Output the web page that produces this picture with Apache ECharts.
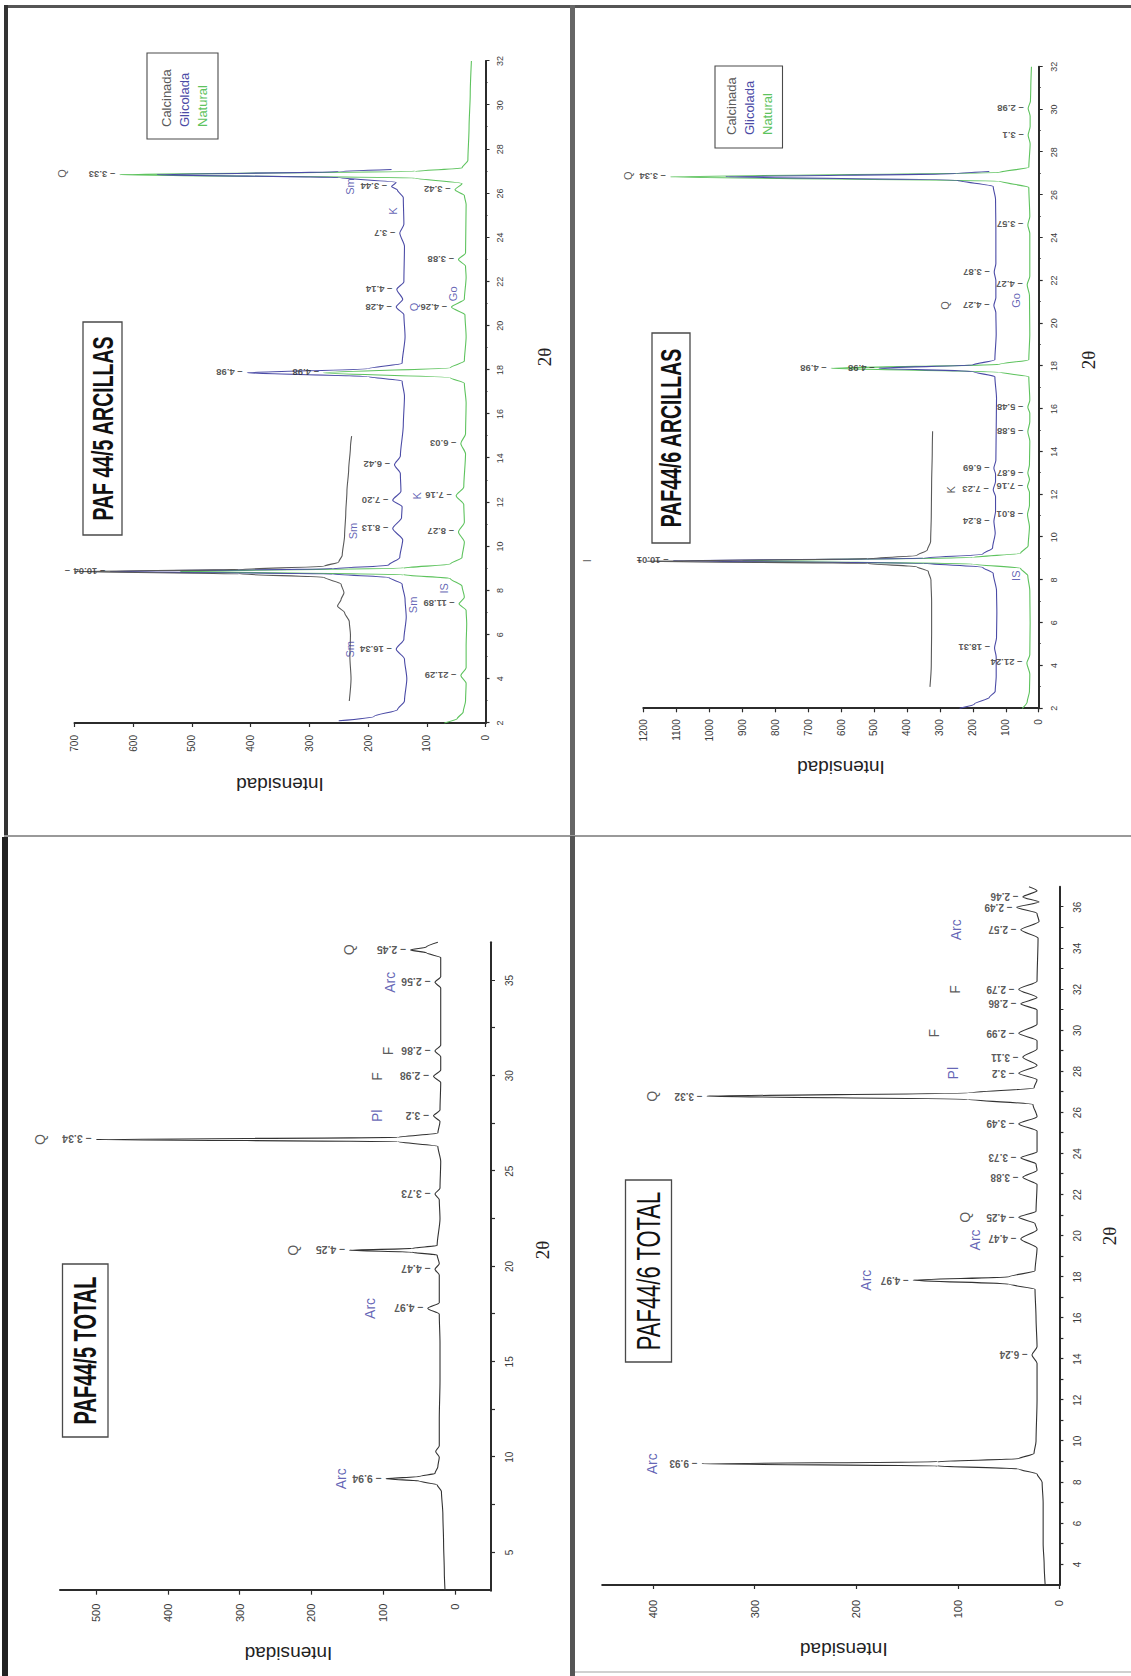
<!DOCTYPE html>
<html>
<head>
<meta charset="utf-8">
<title>Difractogramas PAF44/5 y PAF44/6</title>
<script src="https://cdn.jsdelivr.net/npm/echarts@6.0.0/dist/echarts.min.js"></script>
<style>
  html, body { margin: 0; padding: 0; background: #fff; }
  #page { position: relative; width: 1131px; height: 1676px; overflow: hidden; background: #fff; }
  .rule { position: absolute; }
  .panel { position: absolute; overflow: hidden; }
  .chart { position: absolute; left: 0; top: 0; transform-origin: 0 0; }
</style>
</head>
<body>
<div id="page">
  <!-- frame lines between the four diffractograms -->
  <div class="rule" style="left:4px;top:5px;width:1127px;height:3px;background:#555;"></div>
  <div class="rule" style="left:4px;top:5px;width:4px;height:832px;background:#333;"></div>
  <div class="rule" style="left:570px;top:5px;width:5px;height:831px;background:#666;"></div>
  <div class="rule" style="left:4px;top:835px;width:1127px;height:2px;background:#999;"></div>
  <div class="rule" style="left:2px;top:837px;width:6px;height:839px;background:#222;"></div>
  <div class="rule" style="left:570px;top:836px;width:5px;height:840px;background:#555;"></div>
  <div class="rule" style="left:575px;top:1671px;width:556px;height:2px;background:#d0d0d0;"></div>

  <div class="panel" style="left:8px;top:8px;width:562px;height:829px;"><div class="chart" id="cTL"></div></div>
  <div class="panel" style="left:575px;top:8px;width:556px;height:827px;"><div class="chart" id="cTR"></div></div>
  <div class="panel" style="left:8px;top:838px;width:562px;height:838px;"><div class="chart" id="cBL"></div></div>
  <div class="panel" style="left:575px;top:836px;width:556px;height:840px;"><div class="chart" id="cBR"></div></div>
</div>

<script>
// ---------- PAF 44/5 ARCILLAS : [2θ, intensidad] ----------
const arc5Natural = [[2.0,70],[2.2,48],[2.5,38],[3.0,34],[3.8,33],[4.15,42],[4.5,33],[5.5,33],[6.5,32],[7.1,33],[7.4,45],[7.7,36],[8.2,40],[8.55,60],[8.72,140],[8.87,520],[9.02,140],[9.2,60],[9.5,40],[10.2,36],[10.66,46],[11.1,36],[11.9,37],[12.3,50],[12.7,37],[14.2,34],[14.67,42],[15.1,34],[16.5,33],[17.4,36],[17.65,60],[17.87,276],[18.1,60],[18.4,36],[19.5,33],[20.5,35],[20.85,58],[21.2,36],[22.2,33],[22.7,34],[23.0,46],[23.3,34],[25.5,33],[25.9,36],[26.16,52],[26.45,40],[26.7,120],[26.85,623],[27.0,120],[27.15,40],[27.5,30],[29.0,28],[30.5,26],[32.0,24]];
const arc5Glicolada = [[2.1,250],[2.3,190],[2.6,150],[3.0,138],[4.0,134],[4.9,138],[5.34,152],[5.8,139],[6.8,135],[7.6,137],[8.3,142],[8.6,165],[8.75,260],[8.87,640],[8.99,260],[9.15,165],[9.5,146],[10.3,141],[10.81,158],[11.3,143],[11.8,142],[12.1,158],[12.5,144],[13.3,145],[13.7,155],[14.1,145],[15.5,140],[16.8,138],[17.5,142],[17.7,200],[17.87,406],[18.05,200],[18.3,142],[19.5,137],[20.5,139],[20.85,152],[21.2,141],[21.65,151],[22.0,139],[23.6,138],[24.2,146],[24.6,139],[25.8,140],[26.15,150],[26.31,160],[26.5,152],[26.72,250],[26.85,560],[26.98,250],[27.08,160]];
const arc5Calcinada = [[3.0,232],[4.0,229],[5.0,231],[6.0,230],[6.6,232],[7.0,240],[7.3,252],[7.6,246],[7.9,241],[8.3,246],[8.6,275],[8.76,420],[8.86,700],[8.96,420],[9.1,275],[9.3,250],[9.6,244],[10.5,240],[11.5,238],[12.5,236],[13.5,233],[14.5,230],[15.0,228]];
// d-spacing labels: [2θ, cima del pico, texto]
const arc5PeakLabels = [[4.15,42,'21.29'],[7.4,45,'11.89'],[10.66,46,'8.27'],[12.3,50,'7.16'],[14.67,42,'6.03'],[17.87,276,'4.98'],[20.85,58,'4.26'],[23.0,46,'3.88'],[26.16,52,'3.42'],[26.85,623,'3.33'],
  [5.34,152,'16.34'],[8.87,640,'10.04'],[10.81,158,'8.13'],[12.1,158,'7.20'],[13.7,155,'6.42'],[17.87,406,'4.98'],[20.85,152,'4.28'],[21.65,151,'4.14'],[24.2,146,'3.7'],[26.31,160,'3.44'],
  [8.86,700,'']];
// mineral labels: [2θ, intensidad, texto, color (b = azul, k = negro)]
const arc5Minerals = [[26.9,722,'Q','k'],[26.31,230,'Sm','b'],[25.2,158,'K','b'],[20.85,122,'Q','b'],[21.45,56,'Go','b'],[10.7,226,'Sm','b'],[5.34,230,'Sm','b'],[7.35,124,'Sm','b'],[8.1,70,'IS','b'],[12.3,116,'K','b']];

// ---------- PAF44/6 ARCILLAS ----------
const arc6Natural = [[2.0,50],[2.3,35],[2.8,28],[3.6,27],[4.12,36],[4.5,27],[6.0,26],[7.5,27],[8.2,33],[8.55,55],[8.75,200],[8.9,900],[9.05,200],[9.25,55],[9.6,32],[10.5,28],[11.06,34],[11.5,28],[12.1,28],[12.37,34],[12.7,28],[13.0,33],[13.4,28],[14.5,27],[14.93,33],[15.4,27],[15.8,27],[16.08,33],[16.4,27],[17.5,30],[17.72,120],[17.9,630],[18.08,120],[18.3,30],[19.5,27],[21.3,28],[21.8,35],[22.2,27],[24.2,27],[24.6,33],[25.0,27],[26.35,30],[26.65,120],[26.85,1118],[27.05,120],[27.3,30],[28.4,26],[28.8,32],[29.2,26],[29.7,26],[30.05,32],[30.4,25],[31.0,24],[32.0,22]];
const arc6Glicolada = [[2.0,240],[2.2,195],[2.5,150],[2.8,132],[3.5,129],[4.4,129],[4.82,134],[5.3,128],[6.5,127],[7.5,128],[8.3,138],[8.6,170],[8.78,350],[8.9,1110],[9.02,350],[9.2,170],[9.5,140],[10.2,132],[10.75,136],[11.2,131],[11.9,131],[12.22,138],[12.6,131],[12.95,131],[13.23,136],[13.6,130],[15.0,129],[16.5,128],[17.5,133],[17.75,200],[17.9,485],[18.05,200],[18.3,133],[19.5,129],[20.5,130],[20.84,136],[21.2,130],[22.0,130],[22.4,135],[22.8,130],[24.5,130],[25.8,131],[26.4,138],[26.7,250],[26.85,950],[27.0,250],[27.1,150]];
const arc6Calcinada = [[3.0,330],[4.0,326],[5.5,325],[7.0,325],[8.0,327],[8.4,335],[8.62,370],[8.77,520],[8.88,1190],[8.99,520],[9.14,370],[9.4,338],[9.8,328],[11.0,326],[12.5,325],[14.0,323],[14.95,322]];
const arc6PeakLabels = [[4.12,36,'21.24'],[11.06,34,'8.01'],[12.37,34,'7.16'],[13.0,33,'6.87'],[14.93,33,'5.88'],[16.08,33,'5.48'],[17.9,630,'4.98'],[21.8,35,'4.27'],[24.6,33,'3.57'],[26.85,1118,'3.34'],[28.8,32,'3.1'],[30.05,32,'2.98'],
  [4.82,134,'18.31'],[8.9,1110,'10.01'],[10.75,136,'8.24'],[12.22,138,'7.23'],[13.23,136,'6.69'],[17.9,485,'4.98'],[20.84,136,'4.27'],[22.4,135,'3.87'],
  [8.88,1190,'']];
const arc6Minerals = [[8.9,1370,'I','k'],[26.9,1245,'Q','k'],[12.22,266,'K','k'],[20.84,284,'Q','k'],[21.07,70,'Go','b'],[8.2,70,'IS','b']];

// ---------- PAF44/5 TOTAL ----------
const tot5Curve = [[3.0,14],[4.0,15],[5.5,16],[7.0,17],[8.2,19],[8.55,25],[8.75,50],[8.87,96],[8.99,50],[9.15,28],[9.5,24],[10.0,22],[10.3,27],[10.6,22],[12.0,22],[14.0,21],[16.0,21],[17.5,22],[17.8,38],[18.1,22],[19.55,22],[19.85,28],[20.15,22],[20.6,25],[20.75,60],[20.85,147],[20.95,60],[21.1,25],[22.5,21],[23.5,22],[23.8,28],[24.1,21],[25.5,20],[26.3,24],[26.55,80],[26.66,500],[26.77,80],[27.0,24],[27.6,21],[27.9,30],[28.2,21],[29.65,20],[29.97,30],[30.3,20],[31.0,20],[31.3,28],[31.6,20],[33.0,20],[34.6,20],[34.9,28],[35.2,20],[36.2,20],[36.45,40],[36.6,62],[36.75,40],[37.0,24]];
const tot5PeakLabels = [[8.87,96,'9.94'],[17.8,38,'4.97'],[19.85,28,'4.47'],[20.85,147,'4.25'],[23.8,28,'3.73'],[26.66,500,'3.34'],[27.9,30,'3.2'],[29.97,30,'2.98'],[31.3,28,'2.86'],[34.9,28,'2.56'],[36.6,62,'2.45']];
const tot5Minerals = [[8.87,159,'Arc','b'],[17.8,119,'Arc','b'],[20.85,225,'Q','k'],[26.66,578,'Q','k'],[27.9,109,'Pl','b'],[29.97,109,'F','k'],[31.3,93,'F','k'],[34.9,91,'Arc','b'],[36.6,147,'Q','k']];
const tot5ThetaLabels = [5,10,15,20,25,30,35];
const tot5ThetaTicks = [5,7.5,10,12.5,15,17.5,20,22.5,25,27.5,30,32.5,35];
const tot5IntensityTicks = [0,100,200,300,400,500];

// ---------- PAF44/6 TOTAL ----------
const tot6Curve = [[3.0,14],[4.0,15],[5.0,16],[6.0,16],[7.0,16],[8.0,17],[8.4,22],[8.65,40],[8.8,120],[8.9,352],[9.0,120],[9.15,40],[9.4,25],[10.0,23],[12.0,22],[13.8,22],[14.2,27],[14.6,22],[16.0,23],[17.4,24],[17.65,50],[17.84,144],[18.0,50],[18.3,24],[19.4,22],[19.85,38],[20.3,22],[20.6,24],[20.9,40],[21.2,23],[22.5,22],[22.85,36],[23.2,22],[23.5,23],[23.8,38],[24.1,22],[25.1,22],[25.45,40],[25.8,22],[26.4,26],[26.65,90],[26.8,347],[26.95,90],[27.2,25],[27.6,22],[27.92,40],[28.3,22],[28.7,36],[29.1,22],[29.5,22],[29.86,40],[30.3,22],[31.0,22],[31.3,38],[31.6,22],[32.0,40],[32.4,22],[34.5,21],[34.9,38],[35.3,20],[35.7,22],[36.0,42],[36.25,20],[36.5,36],[36.8,22],[37.0,30]];
const tot6PeakLabels = [[8.9,352,'9.93'],[14.2,27,'6.24'],[17.84,144,'4.97'],[19.85,38,'4.47'],[20.9,40,'4.25'],[22.85,36,'3.88'],[23.8,38,'3.73'],[25.45,40,'3.49'],[26.8,347,'3.32'],[27.92,40,'3.2'],[28.7,36,'3.11'],[29.86,40,'2.99'],[31.3,38,'2.86'],[32.0,40,'2.79'],[34.9,38,'2.57'],[36.0,42,'2.49'],[36.5,36,'2.46']];
const tot6Minerals = [[8.9,401,'Arc','b'],[17.84,190,'Arc','b'],[19.8,83,'Arc','b'],[20.9,93,'Q','k'],[26.8,401,'Q','k'],[27.92,105,'Pl','b'],[29.86,123,'F','k'],[32.0,103,'F','k'],[34.9,102,'Arc','b']];
const tot6ThetaLabels = [4,6,8,10,12,14,16,18,20,22,24,26,28,30,32,34,36];
const tot6ThetaTicks = [4,5,6,7,8,9,10,11,12,13,14,15,16,17,18,19,20,21,22,23,24,25,26,27,28,29,30,31,32,33,34,35,36];
const tot6IntensityTicks = [0,100,200,300,400];

// ---------- styling ----------
const FONT = '"Liberation Sans", Arial, Helvetica, sans-serif';
const SERIF = '"Liberation Serif", "Times New Roman", serif';
const INK = '#2b2b2b';
const C_CALC = '#5a5a5a', C_GLIC = '#4b4ba6', C_NAT = '#5ec35e', C_TOT = '#333333';
const C_BLUE = '#3d3da3', C_DARK = '#303030';

function merge(a, b) {
  const out = Object.assign({}, a);
  for (const k in b) {
    const v = b[k];
    if (v && typeof v === 'object' && !Array.isArray(v) && a[k] && typeof a[k] === 'object' && !Array.isArray(a[k])) {
      out[k] = merge(a[k], v);
    } else {
      out[k] = v;
    }
  }
  return out;
}

// each chart is laid out upright and then turned a quarter turn counter-clockwise
function mount(id, pw, ph) {
  const el = document.getElementById(id);
  el.style.width = ph + 'px';
  el.style.height = pw + 'px';
  el.style.transform = 'translate(0px,' + ph + 'px) rotate(-90deg)';
  return echarts.init(el, null, { renderer: 'svg', width: ph, height: pw });
}

const plain = v => String(v);

const thetaBase = {
  type: 'value',
  splitLine: { show: false },
  minorSplitLine: { show: false },
  axisLine: { show: true, onZero: false, lineStyle: { color: INK, width: 2 } },
  axisTick: { show: true, length: 4, lineStyle: { color: INK, width: 1.2 } },
  axisLabel: { fontSize: 9, color: '#3a3a3a', fontFamily: FONT, margin: 10, formatter: plain },
  name: '2θ',
  nameLocation: 'middle',
  nameTextStyle: { fontFamily: SERIF, fontSize: 19, color: '#222' }
};
const intensityBase = {
  type: 'value',
  splitLine: { show: false },
  axisLine: { show: true, onZero: false, lineStyle: { color: INK, width: 2 } },
  axisTick: { show: true, length: 4, lineStyle: { color: INK, width: 1.2 } },
  axisLabel: { fontSize: 10, color: '#3a3a3a', fontFamily: FONT, margin: 12, formatter: plain },
  name: 'Intensidad',
  nameLocation: 'middle',
  nameTextStyle: { fontFamily: FONT, fontSize: 19, color: '#222' }
};

function trace(data, color, z) {
  return {
    type: 'line', data: data, symbol: 'none', smooth: 0.25, smoothMonotone: 'x',
    clip: true, silent: true, z: z,
    lineStyle: { color: color, width: 1.1 }, itemStyle: { color: color },
    emphasis: { disabled: true }
  };
}
function dLabels(rows, size) {
  return {
    type: 'scatter', symbol: 'circle', symbolSize: 1, clip: false, silent: true, z: 8,
    itemStyle: { color: 'rgba(0,0,0,0)' },
    data: rows.map(r => ({ value: [r[0], r[1]], name: r[2] })),
    label: {
      show: true, position: 'top', distance: 4, rotate: 90, align: 'left', verticalAlign: 'middle',
      formatter: p => '– ' + p.name,
      fontSize: size, fontWeight: 'bold', color: '#2e2e2e', fontFamily: FONT
    }
  };
}
function mineralLabels(rows, size) {
  return {
    type: 'scatter', symbol: 'circle', symbolSize: 1, clip: false, silent: true, z: 9,
    itemStyle: { color: 'rgba(0,0,0,0)' },
    data: rows.map(r => ({ value: [r[0], r[1]], name: r[2], label: { color: r[3] === 'b' ? C_BLUE : C_DARK } })),
    label: { show: true, position: 'inside', formatter: p => p.name, fontSize: size, fontFamily: FONT }
  };
}
function titleBox(x, y, w, h, text, size, weight, sy) {
  return [
    { type: 'rect', silent: true, z: 20, shape: { x: x, y: y, width: w, height: h },
      style: { fill: '#fff', stroke: '#4a4a4a', lineWidth: 1.3 } },
    { type: 'text', silent: true, z: 21, x: x + w / 2, y: y + h / 2, scaleY: sy,
      style: { text: text, align: 'center', verticalAlign: 'middle', fontSize: size, fontWeight: weight, fontFamily: FONT, fill: '#111' } }
  ];
}
function legendBox(x, y, w, h, tx, rows) {
  const els = [{ type: 'rect', silent: true, z: 20, shape: { x: x, y: y, width: w, height: h },
    style: { fill: '#fff', stroke: '#4a4a4a', lineWidth: 1.1 } }];
  rows.forEach(r => els.push({ type: 'text', silent: true, z: 21, x: tx, y: r[1],
    style: { text: r[0], align: 'left', verticalAlign: 'middle', fontSize: 13, fontFamily: FONT, fill: r[2] } }));
  return els;
}

// ---------- PAF 44/5 ARCILLAS ----------
mount('cTL', 562, 829).setOption({
  animation: false,
  grid: { left: 114, top: 66.5, width: 662, height: 411, outerBoundsMode: 'none' },
  xAxis: merge(thetaBase, { min: 2, max: 32, interval: 2,
    minorTick: { show: true, splitNumber: 2, length: 2, lineStyle: { color: INK } },
    nameGap: 49, nameTextStyle: { padding: [0, 0, 0, 70] } }),
  yAxis: merge(intensityBase, { min: 0, max: 700, interval: 100, nameGap: 52 }),
  series: [
    trace(arc5Natural, C_NAT, 2),
    trace(arc5Glicolada, C_GLIC, 3),
    trace(arc5Calcinada, C_CALC, 4),
    dLabels(arc5PeakLabels, 9.5),
    mineralLabels(arc5Minerals, 11)
  ],
  graphic: titleBox(302, 75, 213, 39, 'PAF 44/5 ARCILLAS', 19.5, 'bold', 1.5)
    .concat(legendBox(698, 139, 86, 71, 710, [['Calcinada', 158, C_CALC], ['Glicolada', 176, C_GLIC], ['Natural', 194, C_NAT]]))
});

// ---------- PAF44/6 ARCILLAS ----------
mount('cTR', 556, 827).setOption({
  animation: false,
  grid: { left: 126.7, top: 68.3, width: 641.6, height: 395.4, outerBoundsMode: 'none' },
  xAxis: merge(thetaBase, { min: 2, max: 32, interval: 2,
    minorTick: { show: true, splitNumber: 2, length: 2, lineStyle: { color: INK } },
    axisLabel: { margin: 11 },
    nameGap: 40, nameTextStyle: { padding: [0, 0, 0, 55] } }),
  yAxis: merge(intensityBase, { min: 0, max: 1200, interval: 100, axisLabel: { margin: 11 }, nameGap: 50 }),
  series: [
    trace(arc6Natural, C_NAT, 2),
    trace(arc6Glicolada, C_GLIC, 3),
    trace(arc6Calcinada, C_CALC, 4),
    dLabels(arc6PeakLabels, 9.5),
    mineralLabels(arc6Minerals, 11)
  ],
  graphic: titleBox(292, 77, 210, 38, 'PAF44/6 ARCILLAS', 19.5, 'bold', 1.5)
    .concat(legendBox(687, 140, 82, 67.5, 700, [['Calcinada', 156, C_CALC], ['Glicolada', 174, C_GLIC], ['Natural', 192, C_NAT]]))
});

// ---------- PAF44/5 TOTAL ----------
mount('cBL', 562, 838).setOption({
  animation: false,
  grid: { left: 85.3, top: 52, width: 648.4, height: 431, outerBoundsMode: 'none' },
  xAxis: merge(thetaBase, { min: 3, max: 37,
    axisLabel: { customValues: tot5ThetaLabels, margin: 13, fontSize: 10 },
    axisTick: { customValues: tot5ThetaTicks },
    nameGap: 42, nameTextStyle: { padding: [0, 0, 0, 33] } }),
  yAxis: merge(intensityBase, { min: -50, max: 550,
    axisLabel: { customValues: tot5IntensityTicks, margin: 13, fontSize: 11 },
    axisTick: { customValues: tot5IntensityTicks },
    nameGap: 53, nameTextStyle: { padding: [0, 26, 0, 0] } }),
  series: [
    trace(tot5Curve, C_TOT, 3),
    dLabels(tot5PeakLabels, 10.5),
    mineralLabels(tot5Minerals, 14)
  ],
  graphic: titleBox(239, 54.5, 173, 45.5, 'PAF44/5 TOTAL', 20, 'bold', 1.55)
});

// ---------- PAF44/6 TOTAL ----------
mount('cBR', 556, 840).setOption({
  animation: false,
  grid: { left: 91, top: 27.2, width: 698.3, height: 457.2, outerBoundsMode: 'none' },
  xAxis: merge(thetaBase, { min: 3, max: 37,
    axisLabel: { customValues: tot6ThetaLabels, margin: 13, fontSize: 10 },
    axisTick: { customValues: tot6ThetaTicks },
    nameGap: 41 }),
  yAxis: merge(intensityBase, { min: 0, max: 450,
    axisLabel: { customValues: tot6IntensityTicks, margin: 15, fontSize: 11 },
    axisTick: { customValues: tot6IntensityTicks },
    nameGap: 55, nameTextStyle: { padding: [0, 26, 0, 0] } }),
  series: [
    trace(tot6Curve, C_TOT, 3),
    dLabels(tot6PeakLabels, 10),
    mineralLabels(tot6Minerals, 14)
  ],
  graphic: titleBox(314, 50.5, 182, 46, 'PAF44/6 TOTAL', 22, 'normal', 1.5)
});
</script>
</body>
</html>
